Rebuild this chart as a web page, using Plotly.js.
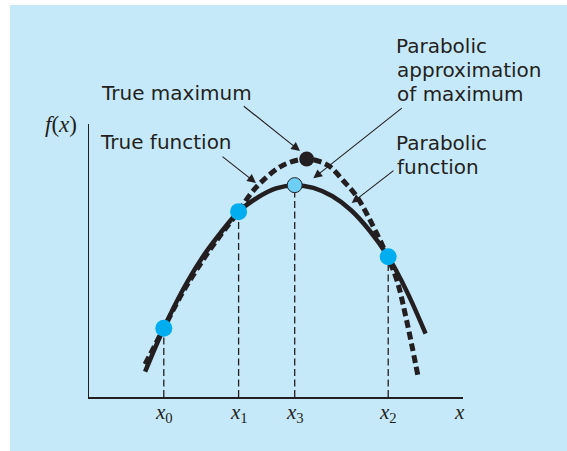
<!DOCTYPE html>
<html>
<head>
<meta charset="utf-8">
<script src="https://cdn.plot.ly/plotly-3.0.1.min.js"></script>
<style>html,body{margin:0;padding:0;background:#fff;}#chart{width:567px;height:451px;}</style>
</head>
<body>
<div id="chart"></div>
<script>
// ---- data (arbitrary units) ----
const trueFnX = [1.5, 2.0, 2.5, 3.0, 3.5, 4.0, 4.3, 4.62, 5.2, 5.82, 6.18, 6.44, 6.8, 7.16, 7.69, 7.98, 8.23, 8.49, 8.8];
const trueFnY = [1.2, 2.52, 3.82, 4.92, 5.9, 6.79, 7.4, 7.89, 8.5, 8.72, 8.62, 8.44, 7.92, 7.34, 6.0, 5.14, 4.29, 2.82, 0.74];
const parabX = [1.5, 2.0, 2.5, 3.0, 3.5, 4.0, 4.5, 5.0, 5.5, 6.0, 6.5, 7.0, 7.5, 8.0, 8.5, 9.0];
const parabY = [0.93, 2.52, 3.9, 5.05, 5.98, 6.79, 7.3, 7.64, 7.76, 7.66, 7.36, 6.85, 6.1, 5.14, 3.86, 2.32];
const sampleX = [2.0, 4.0, 8.0];          // x0, x1, x2
const sampleY = [2.52, 6.79, 5.14];
const optX = [5.5];                        // x3
const optY = [7.76];
const trueMaxX = [5.82];
const trueMaxY = [8.72];
const tickX = [2.0, 4.0, 5.5, 8.0];
const tickY = [2.52, 6.79, 7.76, 5.14];
const tickSubs = ['0', '1', '3', '2'];
const axisLabelX = 'x';
const axisLabelY = 'f(x)';
const labelTrueMax = 'True maximum';
const labelTrueFn = 'True function';
const labelApprox = ['Parabolic', 'approximation', 'of maximum'];
const labelParab = ['Parabolic', 'function'];

// ---- geometry helpers (plot area in pixels) ----
const W = 567, H = 451;
const L = 89, R = 463, T = 124, B = 397;
const px = x => (x - L) / (R - L);
const py = y => (B - y) / (B - T);
const ink = '#231f20';

// drop lines
const dropX = [], dropY = [];
tickX.forEach((x, i) => { dropX.push(x, x, null); dropY.push(0, tickY[i], null); });

const traces = [
  {x: dropX, y: dropY, mode: 'lines', line: {color: ink, width: 1.3, dash: '7px,3.5px'}, hoverinfo: 'skip'},
  {x: trueFnX, y: trueFnY, mode: 'lines', line: {color: ink, width: 5, dash: '8px,4px', shape: 'spline'}},
  {x: parabX, y: parabY, mode: 'lines', line: {color: ink, width: 4.5, shape: 'spline'}},
  {x: trueMaxX, y: trueMaxY, mode: 'markers', marker: {size: 15, color: ink}},
  {x: sampleX, y: sampleY, mode: 'markers', marker: {size: 17, color: '#00aeef'}},
  {x: optX, y: optY, mode: 'markers', marker: {size: 15, color: '#6dcff6', line: {color: ink, width: 1}}}
];

const textFont = {family: 'DejaVu Sans', size: 20, color: ink};
const serif = {family: 'Liberation Serif', size: 21, color: ink};
const serifBig = {family: 'Liberation Serif', size: 23, color: ink};
const ann = [];
function txt(text, left, top, font) {
  ann.push({xref: 'paper', yref: 'paper', x: px(left), y: py(top), xanchor: 'left', yanchor: 'top',
            text: text, showarrow: false, font: font || textFont});
}
txt(labelTrueMax, 98.7, 79.4);
txt(labelTrueFn, 98, 127.7);
[52.7, 76.7, 100.7].forEach((b, i) => txt(labelApprox[i], i === 0 ? 394.3 : 395.2, b - 20.6));
[150, 173.3].forEach((b, i) => txt(labelParab[i], i === 0 ? 394.3 : 395.4, b - 20.6));

function arrow(tailX, tailY, tipX, tipY) {
  ann.push({xref: 'paper', yref: 'paper', x: px(tipX), y: py(tipY), ax: tailX - tipX, ay: tailY - tipY,
            axref: 'pixel', ayref: 'pixel', text: '', showarrow: true, arrowhead: 2, arrowsize: 1.6,
            arrowwidth: 1.1, arrowcolor: ink, standoff: 0});
}
arrow(242.3, 105, 300, 151);
arrow(221, 155.5, 256, 183);
arrow(403.3, 107, 313.3, 178.3);
arrow(395, 169.5, 351.7, 203);

// axis labels
tickX.forEach((x, i) => ann.push({xref: 'x', yref: 'paper', x: x, y: 0, xanchor: 'center', yanchor: 'top',
  text: '<i>' + axisLabelX + '</i><sub>' + tickSubs[i] + '</sub>', showarrow: false, font: serif, yshift: -1}));
ann.push({xref: 'paper', yref: 'paper', x: px(459), y: 0, xanchor: 'center', yanchor: 'top',
  text: '<i>' + axisLabelX + '</i>', showarrow: false, font: serif, yshift: -1});
ann.push({xref: 'paper', yref: 'paper', x: px(61.3), y: py(110.5), xanchor: 'center', yanchor: 'top',
  text: '<i>f</i>(<i>x</i>)', showarrow: false, font: serifBig});

const layout = {
  width: W, height: H, autosize: false,
  margin: {l: L, r: W - R, t: T, b: H - B, pad: 0},
  paper_bgcolor: '#ffffff', plot_bgcolor: 'rgba(0,0,0,0)',
  showlegend: false,
  xaxis: {range: [0, 10], showline: true, linecolor: ink, linewidth: 1.5, showgrid: false, zeroline: false,
          showticklabels: false, ticks: '', fixedrange: true},
  yaxis: {range: [0, 10], showline: true, linecolor: ink, linewidth: 1.5, showgrid: false, zeroline: false,
          showticklabels: false, ticks: '', fixedrange: true},
  shapes: [{type: 'rect', xref: 'paper', yref: 'paper', layer: 'below',
            x0: px(10), x1: px(600), y0: py(480), y1: py(5),
            fillcolor: '#c6e9f9', line: {width: 0}}],
  annotations: ann
};

Plotly.newPlot('chart', traces, layout, {displayModeBar: false, staticPlot: true});
</script>
</body>
</html>
